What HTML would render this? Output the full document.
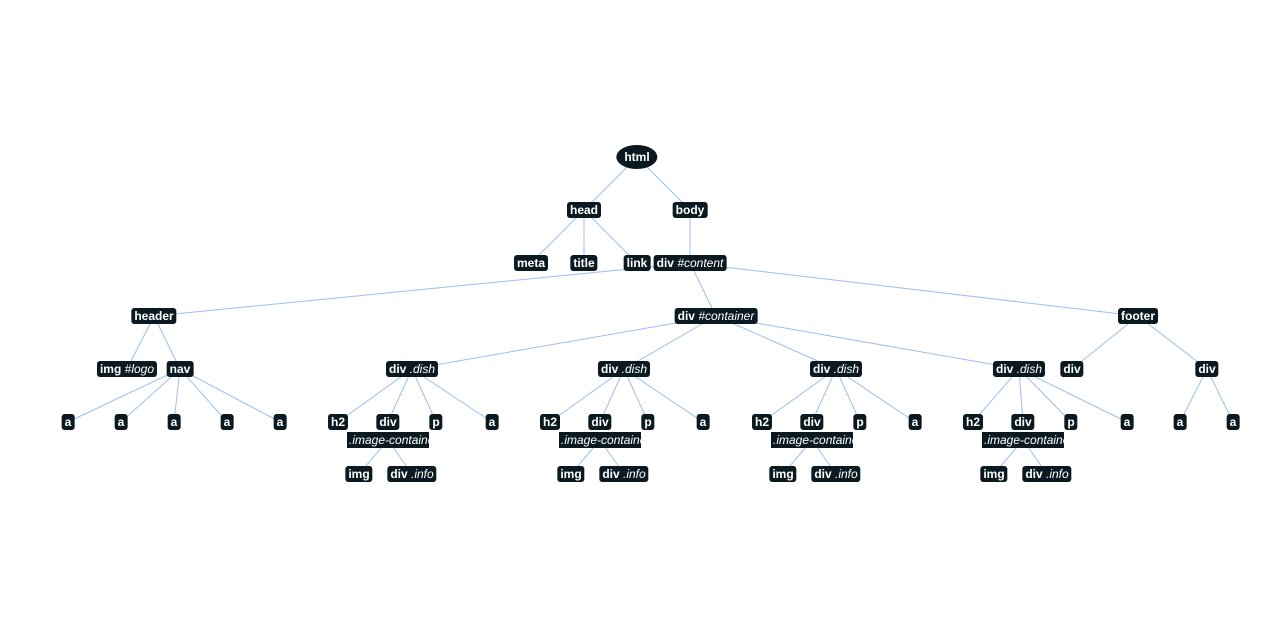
<!DOCTYPE html>
<html><head><meta charset="utf-8"><style>
html,body{margin:0;padding:0;background:#fff;width:1286px;height:620px;overflow:hidden;font-family:"Liberation Sans",sans-serif}
#stage{position:relative;width:1286px;height:620px}
svg{position:absolute;left:0;top:0}
.n{position:absolute;transform:translate(-50%,-50%);background:#0b1a20;color:#fff;font-weight:bold;font-size:12px;line-height:16px;height:16px;padding:0 3px;border-radius:3px;white-space:nowrap}
.n i{font-weight:normal}
.ell{border-radius:50%;height:24px;line-height:24px;padding:0 8px}
.ic{position:absolute;transform:translate(-50%,-50%);background:#0b1a20;color:#fff;font-size:12px;line-height:16px;height:16px;width:80px;overflow:hidden;white-space:nowrap;font-style:italic;padding-left:2px}
</style></head><body>
<div id="stage">
<svg id="links" width="1286" height="620"></svg>
</div>
<script>
// node labels, parent index, x center, level
const labels=["html","head","body","meta","title","link","div|#content","header","div|#container","footer",
"img|#logo","nav","div|.dish","div|.dish","div|.dish","div|.dish","div","div",
"a","a","a","a","a",
"h2","div","p","a","h2","div","p","a","h2","div","p","a","h2","div","p","a",
"a","a",
"img","div|.info","img","div|.info","img","div|.info","img","div|.info"];
const parents=[-1,0,0,1,1,1,2,6,6,6,
7,7,8,8,8,8,9,9,
11,11,11,11,11,
12,12,12,12,13,13,13,13,14,14,14,14,15,15,15,15,
17,17,
24,24,28,28,32,32,36,36];
const xs=[637,584,690,531,584,637,690,154,716,1138,
127,180,412,624,836,1019,1072,1207,
68,121,174,227,280,
338,388,436,492,550,600,648,703,762,812,860,915,973,1023,1071,1127,
1180,1233,
359,412,571,624,783,836,994,1047];
const levels=[0,1,1,2,2,2,2,3,3,3,4,4,4,4,4,4,4,4,
5,5,5,5,5,5,5,5,5,5,5,5,5,5,5,5,5,5,5,5,5,5,5,
6,6,6,6,6,6,6,6];
const levelY=[157,210,263,316,369,422,474];
const imgContainIdx=[24,28,32,36];
const stage=document.getElementById('stage');
const svg=document.getElementById('links');
const NS='http://www.w3.org/2000/svg';
function yOf(i){return levelY[levels[i]];}
for(let i=0;i<labels.length;i++){
  const p=parents[i]; if(p<0) continue;
  const l=document.createElementNS(NS,'line');
  
  
  let py=yOf(p); if(imgContainIdx.includes(p)) py=440;
  l.setAttribute('x1',xs[p]);l.setAttribute('y1',py);
  l.setAttribute('x2',xs[i]);l.setAttribute('y2',yOf(i));
  l.setAttribute('stroke','#9bbff0');l.setAttribute('stroke-width','1');
  svg.appendChild(l);
}
for(let i=0;i<labels.length;i++){
  const d=document.createElement('div');
  d.className='n'+(i===0?' ell':'');
  
  
  const parts=labels[i].split('|');
  d.innerHTML=parts[0]+(parts[1]?' <i>'+parts[1]+'</i>':'');
  d.style.left=xs[i]+'px';d.style.top=yOf(i)+'px';
  stage.appendChild(d);
  if(imgContainIdx.includes(i)){
    const c=document.createElement('div');
    c.className='ic';
    
    
    c.textContent='.image-container';
    c.style.left=xs[i]+'px';c.style.top='440px';
    stage.appendChild(c);
  }
}
</script>
</body></html>
